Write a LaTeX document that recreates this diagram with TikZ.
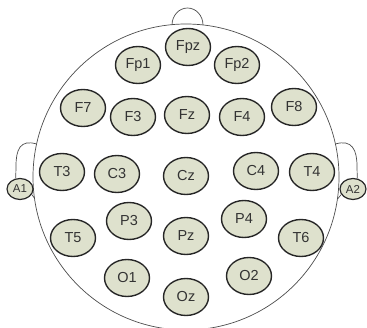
\documentclass[tikz,border=0pt]{standalone}
\usepackage{fontspec}
\setmainfont{Liberation Sans}
\usetikzlibrary{shapes.geometric}
\definecolor{padfill}{HTML}{DEE1CD}
\definecolor{labelgray}{HTML}{333333}

\begin{document}
\begin{tikzpicture}[x=1pt, y=-1pt,
        electrode/.style={ellipse, draw=black!85, line width=1.4pt, fill=padfill,
            minimum width=45pt, minimum height=37pt, inner sep=0pt,
            text=labelgray, font=\fontsize{14.5}{14.5}\selectfont},
        earclip/.style={ellipse, draw=black!85, line width=1.2pt, fill=padfill,
            minimum width=26pt, minimum height=21pt, inner sep=0pt,
            text=labelgray, font=\fontsize{11.5}{11.5}\selectfont},
        outline/.style={draw=black!70, line width=0.7pt}]
        \useasboundingbox (0,0) rectangle (367,328);

        % head, nose and ears
        \coordinate (centre) at (186,177);
        \draw[outline] (centre) circle (153pt);
        \coordinate (noseleft) at (172,25);
        \draw[outline] (noseleft) arc[start angle=180, end angle=0, x radius=15.5pt, y radius=17pt];

        \node[earclip] (A1) at (20,189) {A1};
        \node[earclip] (A2) at (353,189) {A2};
        \coordinate (lefttop) at (36.6,144);
        \coordinate (leftlow) at (34.4,198);
        \coordinate (righttop) at (335.4,144);
        \coordinate (rightlow) at (337.6,199);
        \draw[outline] (lefttop) .. controls (20,139) and (16,150) .. (16,166) -- (A1.112);
        \draw[outline] (A1.-25) -- (leftlow);
        \draw[outline] (righttop) .. controls (352,139) and (357,150) .. (357,166) -- (A2.68);
        \draw[outline] (A2.205) -- (rightlow);

        % electrodes
        \foreach \name/\x/\y in {Fpz/188/47, Fp1/138/65, Fp2/237/65,
                F7/83/108, F3/133/117, Fz/187/115, F4/242/117, F8/294/107,
                T3/62/172, C3/117/174, Cz/186/176, C4/256/171, T4/312/172,
                P3/129/221, Pz/186/236, P4/244/219, T5/73/238, T6/301/238,
                O1/127/278, Oz/186/297, O2/249/276}
            \node[electrode] (\name) at (\x,\y) {\name};
\end{tikzpicture}
\end{document}
